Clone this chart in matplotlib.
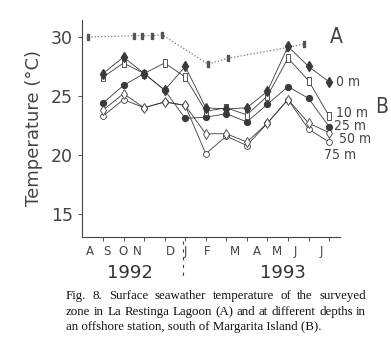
import matplotlib
matplotlib.use("Agg")
import matplotlib.pyplot as plt
import matplotlib.transforms as mtransforms

# monthly samples, Aug 1992 .. Jul 1993 (offshore station, B)
months = list(range(12))
t0m = [26.9, 28.3, 26.9, 25.5, 27.5, 24.0, 23.9, 24.0, 25.4, 29.2, 27.5, 26.2]
t10m = [26.6, 27.8, 26.9, 27.8, 26.6, 23.7, 24.0, 23.4, 25.0, 28.2, 26.3, 23.3]
t25m = [24.4, 25.9, 26.9, 25.5, 23.1, 23.2, 23.5, 22.8, 24.3, 25.8, 24.8, 22.4]
t50m = [23.8, 25.2, 24.0, 24.5, 24.2, 21.8, 21.8, 21.1, 22.7, 24.7, 22.7, 21.9]
t75m = [23.3, 24.7, 24.0, 24.5, 24.2, 20.1, 21.6, 20.8, 22.7, 24.7, 22.2, 21.1]

# La Restinga Lagoon (A), irregular sampling dates (in month units)
lag_x = [-0.73, 1.51, 1.90, 2.38, 2.87, 5.11, 6.08, 8.95, 9.78]
lag_t = [30.0, 30.1, 30.1, 30.1, 30.2, 27.7, 28.2, 29.1, 29.4]

month_labels = ['A', 'S', 'O', 'N', 'D', 'J', 'F', 'M', 'A', 'M', 'J', 'J']
month_label_x = [-0.63, 0.19, 0.97, 1.65, 3.26, 3.99, 5.06, 6.42, 7.49, 8.47, 9.34, 10.61]
yticks = [15, 20, 25, 30]

W, H = 391, 350
fig = plt.figure(figsize=(W / 100, H / 100), dpi=100)
ax = fig.add_axes([82 / W, 1 - 237 / H, (340 - 82) / W, (237 - 20) / H])

dark = '#3a3a3a'
rect = [(-0.45, -1), (0.45, -1), (0.45, 1), (-0.45, 1), (-0.45, -1)]
lw = 0.6

ax.plot(lag_x, lag_t, ls=':', color='#777777', lw=0.9, marker=rect, ms=4,
        mfc='#555555', mec='#555555', zorder=2)
ax.plot(months, t75m, color=dark, lw=lw, marker='o', ms=4.2, mfc='white', mec=dark, mew=0.6, zorder=3)
ax.plot(months, t50m, color=dark, lw=lw, marker='d', ms=5.5, mfc='white', mec=dark, mew=0.6, zorder=3)
ax.plot(months, t25m, color=dark, lw=lw, marker='o', ms=4.2, mfc=dark, mec=dark, zorder=4)
ax.plot(months, t10m, color=dark, lw=lw, marker=rect, ms=5.5, mfc='white', mec=dark, mew=0.6, zorder=4)
ax.plot(months, t0m, color=dark, lw=lw, marker='d', ms=5.5, mfc=dark, mec=dark, zorder=5)

ax.set_xlim(-1.02, 11.53)
ax.set_ylim(13.05, 31.44)
ax.spines['top'].set_visible(False)
ax.spines['right'].set_visible(False)
for s in ['left', 'bottom']:
    ax.spines[s].set_linewidth(0.8)
    ax.spines[s].set_color('#444444')
ax.set_yticks(yticks)
ax.set_yticklabels([str(v) for v in yticks], fontsize=12.5, color='#444444')
ax.set_xticks(months)
ax.set_xticklabels([])
ax.tick_params(axis='both', direction='out', length=3, width=0.7, color='#555555')
ax.set_ylabel('Temperature (°C)', fontsize=13, color='#444444', labelpad=6)

trans = mtransforms.blended_transform_factory(ax.transData, ax.transAxes)
for lab, xx in zip(month_labels, month_label_x):
    ax.text(xx, -0.069, lab, transform=trans, ha='center', va='center',
            fontsize=8.5, color='#444444')
ax.text(1.31, -0.166, '1992', transform=trans, ha='center', va='center', fontsize=13, color='#333333')
ax.text(8.76, -0.166, '1993', transform=trans, ha='center', va='center', fontsize=13, color='#333333')
ax.plot([3.89, 3.89], [-0.02, -0.18], transform=trans, clip_on=False,
        ls=(0, (3, 4)), color='#444444', lw=0.8)

# series labels
def ftext(px, py, s, size):
    fig.text(px / W, 1 - py / H, s, ha='left', va='center', fontsize=size,
             color='#444444', family='DejaVu Sans', stretch='condensed')

ftext(330, 37, 'A', 15)
ftext(336, 82, '0 m', 10)
ftext(336, 113, '10 m', 10)
ftext(375, 107, 'B', 15)
ftext(334, 126, '25 m', 10)
ftext(339, 139, '50 m', 10)
ftext(324, 155, '75 m', 10)

# caption, first two lines justified
cap = ["Fig. 8. Surface seawather temperature of the surveyed",
       "zone in La Restinga Lagoon (A) and at different depths in",
       "an offshore station, south of Margarita Island (B)."]
cap_y = [296, 312, 327]
x0, x1 = 66, 366
fs = 9.3
fig.canvas.draw()
rend = fig.canvas.get_renderer()
for i, (line, yy) in enumerate(zip(cap, cap_y)):
    if i == 2:
        fig.text(x0 / W, 1 - yy / H, line, ha='left', va='center', fontsize=fs,
                 family='Liberation Serif', color='#111111')
        continue
    words = line.split(' ')
    arts = [fig.text(0, 1 - yy / H, w, ha='left', va='center', fontsize=fs,
                     family='Liberation Serif', color='#111111') for w in words]
    widths = [a.get_window_extent(rend).width for a in arts]
    gap = (x1 - x0 - sum(widths)) / (len(words) - 1)
    cx = x0
    for a, w in zip(arts, widths):
        a.set_x(cx / W)
        cx += w + gap

fig.savefig('out.png', dpi=100)
